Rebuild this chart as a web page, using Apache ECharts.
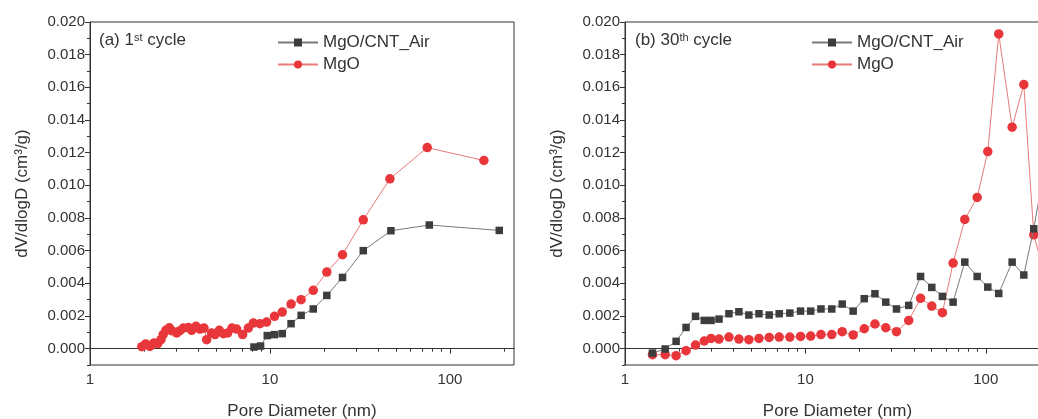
<!DOCTYPE html>
<html><head><meta charset="utf-8">
<script src="https://cdn.jsdelivr.net/npm/echarts@6/dist/echarts.min.js"></script>
<style>html,body{margin:0;padding:0;background:#fff}#c{width:1038px;height:419px}</style>
</head><body><div id="c"></div>
<script>
// (a) 1st cycle
var dA_cnt = [8.15, 8.87, 9.66, 10.6, 11.7, 13.1, 14.9, 17.4, 20.7, 25.3, 33.0, 47.0, 76.8, 188];
var vA_cnt = [0.0001, 0.00016, 0.0008, 0.00086, 0.00092, 0.00153, 0.00204, 0.00243, 0.00326, 0.00436, 0.006, 0.00722, 0.00757, 0.00724];
var dA_mgo = [1.94,2.04,2.15,2.27,2.38,2.48,2.55,2.64,2.76,2.84,3.03,3.16,3.30,3.52,3.67,3.88,4.08,4.30,4.45,4.74,4.95,5.23,5.51,5.82,6.15,6.53,7.05,7.58,8.08,8.80,9.58,10.6,11.7,13.1,14.9,17.4,20.7,25.3,33.0,46.4,74.8,154.5];
var vA_mgo = [0.00012,0.00029,0.00014,0.00035,0.00031,0.00055,0.00086,0.00112,0.00128,0.0011,0.00096,0.0011,0.00126,0.0013,0.00112,0.00137,0.0012,0.00126,0.00055,0.00096,0.00086,0.00112,0.00092,0.00096,0.00126,0.0012,0.00086,0.00126,0.00157,0.00153,0.00163,0.00198,0.00224,0.00273,0.003,0.00357,0.00469,0.00575,0.00789,0.0104,0.01231,0.01152];
// (b) 30th cycle
var dB = [1.42,1.67,1.92,2.18,2.46,2.75,3.0,3.32,3.77,4.28,4.86,5.53,6.30,7.16,8.2,9.4,10.7,12.2,14.0,16.0,18.4,21.2,24.3,27.9,32.0,37.4,43.5,50.2,57.5,65.9,76.5,89.6,102.6,118,140,162.5,184.5,215];
var vB_cnt = [-0.00027,-0.00002,0.00045,0.0013,0.00198,0.00173,0.00173,0.00181,0.00214,0.00226,0.00206,0.00214,0.00206,0.00214,0.00218,0.0023,0.0023,0.00243,0.00243,0.00273,0.0023,0.00306,0.00336,0.00285,0.00243,0.00265,0.00442,0.00375,0.0032,0.00285,0.0053,0.00442,0.00377,0.00338,0.0053,0.00451,0.00734,0.0115];
var vB_mgo = [-0.00037,-0.00037,-0.00043,-0.00012,0.00022,0.00047,0.00063,0.00059,0.00071,0.00059,0.00055,0.00063,0.00069,0.00071,0.00071,0.00075,0.00077,0.00086,0.00086,0.00104,0.00084,0.00122,0.00151,0.00128,0.00104,0.00173,0.00308,0.00261,0.0022,0.00524,0.00791,0.00926,0.01207,0.01927,0.01356,0.01617,0.00697,0.0043];

var yMajor = [0,0.002,0.004,0.006,0.008,0.010,0.012,0.014,0.016,0.018,0.020];
var yMinor = [-0.001,0.001,0.003,0.005,0.007,0.009,0.011,0.013,0.015,0.017,0.019];
var xMajor = [1,10,100];
var xMinor = [2,3,4,5,6,7,8,9,20,30,40,50,60,70,80,90,200];
var names = ['MgO/CNT_Air','MgO'];
var panelLabels = [['(a) 1','st',' cycle'],['(b) 30','th',' cycle']];

function zip(a,b){return a.map(function(v,i){return [v,b[i]];});}

var FONT = 'Liberation Sans, Arial, sans-serif';
var TXT = '#333';
var AX = '#333';
var grids = [{left:90, top:22, width:424, height:343}, {left:625, top:22, width:425, height:343}];

var xAxes = [], yAxes = [];
grids.forEach(function(g, i){
  xAxes.push({type:'log', logBase:10, gridIndex:i, position:'bottom', min:1, max:227,
    axisLine:{show:true, lineStyle:{color:AX, width:1}},
    axisTick:{show:true, inside:false, length:5, customValues:xMajor, lineStyle:{color:AX}},
    axisLabel:{fontSize:15, color:TXT, fontFamily:FONT, margin:7, customValues:xMajor},
    splitLine:{show:false}, minorTick:{show:false},
    name:'Pore Diameter (nm)', nameLocation:'middle', nameGap:38,
    nameTextStyle:{fontSize:17, color:TXT, fontFamily:FONT}});
  xAxes.push({type:'log', logBase:10, gridIndex:i, position:'bottom', min:1, max:227,
    axisLine:{show:false}, axisLabel:{show:false}, splitLine:{show:false},
    axisTick:{show:true, inside:false, length:3, customValues:xMinor, lineStyle:{color:AX}}});
  yAxes.push({type:'value', gridIndex:i, position:'left', min:-0.001, max:0.020,
    axisLine:{show:true, lineStyle:{color:AX, width:1}},
    axisTick:{show:true, inside:false, length:5, customValues:yMajor, lineStyle:{color:AX}},
    axisLabel:{fontSize:15, color:TXT, fontFamily:FONT, customValues:yMajor, margin:5,
      formatter:function(v){return v.toFixed(3);}},
    splitLine:{show:false},
    name:'dV/dlogD (cm\u00B3/g)', nameLocation:'middle', nameGap:59,
    nameTextStyle:{fontSize:17, color:TXT, fontFamily:FONT}});
  yAxes.push({type:'value', gridIndex:i, position:'left', min:-0.001, max:0.020,
    axisLine:{show:false}, axisLabel:{show:false}, splitLine:{show:false},
    axisTick:{show:true, inside:false, length:3, customValues:yMinor, lineStyle:{color:AX}}});
});

var GRAY = '#3d3d3d', GRAYL = '#7a7a7a', RED = '#e8363a', REDL = '#e77a7a';
function mk(name, data, xi, yi){
  var isCnt = name === names[0];
  return {type:'line', name:name, xAxisIndex:xi, yAxisIndex:yi, data:data,
    symbol: isCnt ? 'rect' : 'circle', symbolSize: isCnt ? 7.5 : 9.5,
    itemStyle:{color: isCnt ? GRAY : RED},
    lineStyle:{color: isCnt ? GRAYL : REDL, width:1},
    z: isCnt ? 3 : 2, animation:false, clip:true};
}
var series = [
  mk(names[0], zip(dA_cnt, vA_cnt), 0, 0),
  mk(names[1], zip(dA_mgo, vA_mgo), 0, 0),
  mk(names[0], zip(dB, vB_cnt), 2, 2),
  mk(names[1], zip(dB, vB_mgo), 2, 2)
];

var legends = [{left:273, top:32}, {left:807, top:32}].map(function(p){
  return {left:p.left, top:p.top, orient:'vertical', itemWidth:40, itemHeight:10,
    itemGap:5, padding:[2,4,2,4], textStyle:{fontSize:17, color:TXT, fontFamily:FONT}, selectedMode:false,
    data:[{name:names[0]}, {name:names[1]}]};
});

var graphics = [[99,32],[635,32]].map(function(p, i){
  var t = panelLabels[i];
  return {type:'text', left:p[0], top:p[1], style:{
    text: t[0] + '{s|' + t[1] + '}' + t[2],
    fontSize:17, fill:TXT, fontFamily:FONT,
    rich:{s:{fontSize:11, fill:TXT, fontFamily:FONT, verticalAlign:'top', lineHeight:11, padding:[0,0,9,0]}}
  }};
});

var chart = echarts.init(document.getElementById('c'), null, {renderer:'canvas'});
chart.setOption({
  animation:false,
  backgroundColor:'#fff',
  grid: grids.map(function(g){return Object.assign({show:true, borderColor:AX, borderWidth:1, backgroundColor:'transparent', outerBoundsMode:'none', containLabel:false}, g);}),
  xAxis:xAxes, yAxis:yAxes, legend:legends, series:series, graphic:graphics
});
</script></body></html>
